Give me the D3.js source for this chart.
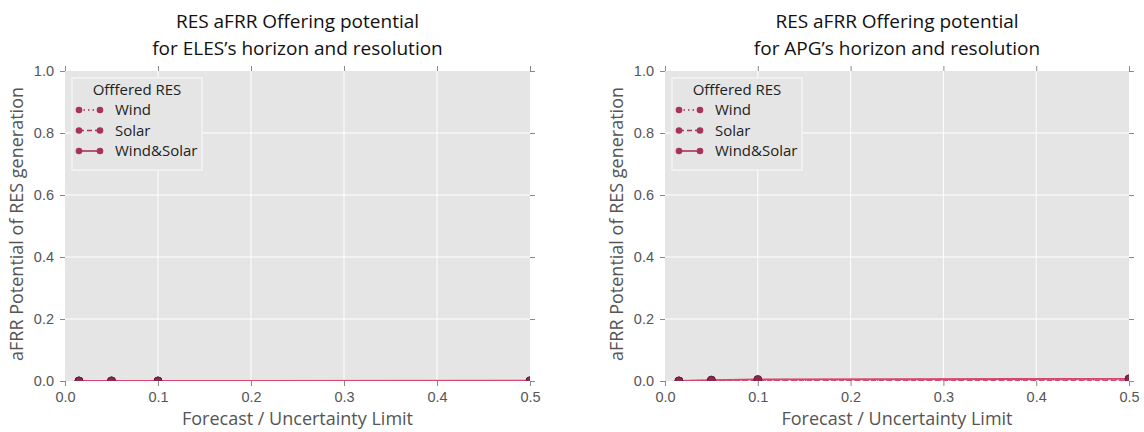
<!DOCTYPE html>
<html>
<head>
<meta charset="utf-8">
<script src="https://cdnjs.cloudflare.com/ajax/libs/d3/7.8.5/d3.min.js"></script>
<style>
	body { margin: 0; background: white; }
	svg { display: block; font-family: "Open Sans", "DejaVu Sans", sans-serif; }
	.title { font-size: 19px; fill: #111; }
	.axis-label { font-size: 18px; fill: #555; }
	.legend-text { font-size: 15px; fill: #222; }
</style>
</head>
<body>
<div class="chart"></div>
<script>
// data
var xValues = [0.015, 0.05, 0.1, 0.5];
var xTicks = [0.0, 0.1, 0.2, 0.3, 0.4, 0.5];
var yTicks = [0.0, 0.2, 0.4, 0.6, 0.8, 1.0];
var seriesNames = ["Wind", "Solar", "Wind&Solar"];

var elesWind = [0, 0, 0, 0];
var elesSolar = [0, 0, 0, 0];
var elesBoth = [0, 0, 0, 0.001];

var apgWind = [0, 0.002, 0.003, 0.005];
var apgSolar = [0, 0, 0, 0];
var apgBoth = [0, 0.003, 0.005, 0.007];

var elesTitle = ["RES aFRR Offering potential", "for ELES\u2019s horizon and resolution"];
var apgTitle = ["RES aFRR Offering potential", "for APG\u2019s horizon and resolution"];

var width = 1144,
		height = 432;

var svg = d3.select(".chart").append("svg")
		.attr("width", width)
		.attr("height", height);

var dashes = ["1.5,3", "5,3", null];

function drawPanel(id, box, titleLines, series){
	var x = d3.scaleLinear().domain([0, 0.5]).range([box.left, box.right]);
	var y = d3.scaleLinear().domain([0, 1]).range([box.bottom, box.top]);
	var g = svg.append("g");

	g.append("clipPath")
			.attr("id", id)
		.append("rect")
			.attr("x", box.left)
			.attr("y", box.top)
			.attr("width", box.right - box.left)
			.attr("height", box.bottom - box.top);

	g.append("rect")
			.attr("x", box.left)
			.attr("y", box.top)
			.attr("width", box.right - box.left)
			.attr("height", box.bottom - box.top)
			.attr("fill", "#e5e5e5");

	// grid
	g.selectAll(".gx").data(xTicks.slice(1, -1)).enter().append("line")
			.attr("x1", function(d){ return x(d) })
			.attr("x2", function(d){ return x(d) })
			.attr("y1", box.top)
			.attr("y2", box.bottom)
			.attr("stroke", "white")
			.attr("stroke-width", 1);
	g.selectAll(".gy").data(yTicks.slice(1, -1)).enter().append("line")
			.attr("y1", function(d){ return y(d) })
			.attr("y2", function(d){ return y(d) })
			.attr("x1", box.left)
			.attr("x2", box.right)
			.attr("stroke", "white")
			.attr("stroke-width", 1);

	// axes, ticks on all four sides
	var tickColor = "#8a8a8a";
	g.append("g").attr("transform", "translate(0," + box.bottom + ")")
			.call(d3.axisBottom(x).tickValues(xTicks).tickSize(5).tickPadding(6).tickFormat(d3.format(".1f")))
			.call(styleAxis, tickColor);
	g.append("g").attr("transform", "translate(0," + box.top + ")")
			.call(d3.axisTop(x).tickValues(xTicks).tickSize(5).tickFormat(""))
			.call(styleAxis, tickColor);
	g.append("g").attr("transform", "translate(" + box.left + ",0)")
			.call(d3.axisLeft(y).tickValues(yTicks).tickSize(5).tickPadding(6).tickFormat(d3.format(".1f")))
			.call(styleAxis, tickColor);
	g.append("g").attr("transform", "translate(" + box.right + ",0)")
			.call(d3.axisRight(y).tickValues(yTicks).tickSize(5).tickFormat(""))
			.call(styleAxis, tickColor);

	// lines and markers
	var line = d3.line()
			.x(function(d){ return x(d.x) })
			.y(function(d){ return y(d.y) });

	var plot = g.append("g").attr("clip-path", "url(#" + id + ")");
	series.forEach(function(vals, i){
		var pts = xValues.map(function(v, j){ return {x: v, y: vals[j]} });
		plot.append("path")
				.datum(pts)
				.attr("d", line)
				.attr("fill", "none")
				.attr("stroke", "#d8466f")
				.attr("stroke-width", 1.8)
				.attr("stroke-dasharray", dashes[i]);
		plot.selectAll(".m" + i).data(pts).enter().append("circle")
				.attr("cx", function(d){ return x(d.x) })
				.attr("cy", function(d){ return y(d.y) })
				.attr("r", 4)
				.attr("fill", "#8a2850")
				.attr("stroke", "#5e1634")
				.attr("stroke-width", 0.8);
	});

	// titles
	var cx = (box.left + box.right) / 2;
	g.selectAll(".title").data(titleLines).enter().append("text")
			.attr("class", "title")
			.attr("x", cx)
			.attr("y", function(d, i){ return 28 + i * 27 })
			.attr("text-anchor", "middle")
			.text(function(d){ return d });

	g.append("text")
			.attr("class", "axis-label")
			.attr("x", cx)
			.attr("y", box.bottom + 44)
			.attr("text-anchor", "middle")
			.text("Forecast / Uncertainty Limit");

	g.append("text")
			.attr("class", "axis-label")
			.attr("transform", "translate(" + (box.left - 42) + "," + ((box.top + box.bottom) / 2 - 2) + ") rotate(-90)")
			.attr("text-anchor", "middle")
			.text("aFRR Potential of RES generation");

	// legend
	var lx = box.left + 7, ly = box.top + 7;
	var legend = g.append("g").attr("transform", "translate(" + lx + "," + ly + ")");
	legend.append("rect")
			.attr("width", 130)
			.attr("height", 92)
			.attr("fill", "#e5e5e5")
			.attr("stroke", "#f3f3f3")
			.attr("stroke-width", 1.5);
	legend.append("text")
			.attr("class", "legend-text")
			.attr("x", 65)
			.attr("y", 17)
			.attr("text-anchor", "middle")
			.text("Offfered RES");
	seriesNames.forEach(function(name, i){
		var yy = 32 + i * 20.5;
		legend.append("line")
				.attr("x1", 7).attr("x2", 28)
				.attr("y1", yy).attr("y2", yy)
				.attr("stroke", "#a8325e")
				.attr("stroke-width", 1.6)
				.attr("stroke-dasharray", dashes[i]);
		legend.selectAll(".lm" + i).data([7, 28]).enter().append("circle")
				.attr("cx", function(d){ return d })
				.attr("cy", yy)
				.attr("r", 3.3)
				.attr("fill", "#a8325e");
		legend.append("text")
				.attr("class", "legend-text")
				.attr("x", 43)
				.attr("y", yy + 5)
				.text(name);
	});
}

function styleAxis(sel, color){
	sel.select(".domain").remove();
	sel.selectAll(".tick line").attr("stroke", color);
	sel.selectAll(".tick text").attr("fill", "#555").style("font-size", "14.5px");
}

drawPanel("clipEles", {left: 65, right: 530, top: 71, bottom: 381}, elesTitle, [elesWind, elesSolar, elesBoth]);
drawPanel("clipApg", {left: 665, right: 1129, top: 71, bottom: 381}, apgTitle, [apgWind, apgSolar, apgBoth]);
</script>
</body>
</html>
